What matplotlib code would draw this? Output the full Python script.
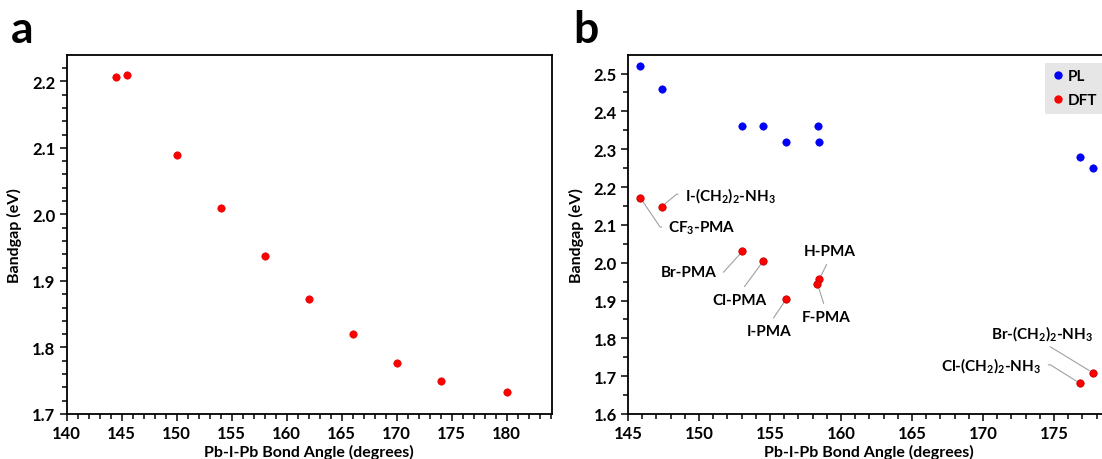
import numpy as np
import matplotlib
matplotlib.use("Agg")
import matplotlib.pyplot as plt
from matplotlib.ticker import MultipleLocator, FormatStrFormatter
from matplotlib.lines import Line2D

plt.rcParams["font.family"] = ["Lato", "DejaVu Sans"]
plt.rcParams["font.weight"] = "bold"
plt.rcParams["mathtext.fontset"] = "custom"
plt.rcParams["mathtext.rm"] = "Lato:bold"
plt.rcParams["mathtext.it"] = "Lato:bold"
plt.rcParams["mathtext.bf"] = "Lato:bold"

# panel a: DFT bandgap vs bond angle
angle_a = [144.47, 145.51, 150.0, 154.0, 158.0, 162.0, 166.0, 170.0, 174.0, 180.0]
gap_a = [2.206, 2.209, 2.089, 2.010, 1.937, 1.873, 1.820, 1.777, 1.749, 1.733]

# panel b: PL and DFT bandgaps
angle_pl = [145.85, 147.37, 153.05, 154.51, 156.15, 158.37, 158.46, 176.83, 177.73]
gap_pl = [2.52, 2.46, 2.36, 2.36, 2.32, 2.36, 2.32, 2.28, 2.25]

angle_dft = [145.88, 147.37, 153.05, 154.54, 156.15, 158.46, 158.34, 176.83, 177.73]
gap_dft = [2.171, 2.148, 2.030, 2.005, 1.904, 1.956, 1.944, 1.681, 1.709]
names = ["CF$_3$-PMA", "I-(CH$_2$)$_2$-NH$_3$", "Br-PMA", "Cl-PMA", "I-PMA",
         "H-PMA", "F-PMA", "Cl-(CH$_2$)$_2$-NH$_3$", "Br-(CH$_2$)$_2$-NH$_3$"]

# label placement: text position, alignment, leader attach point, connection
label_pos = [
    ((147.85, 2.094), "left", "center", (0, 0.5), "angle,angleA=0,angleB=-56,rad=0"),
    ((149.02, 2.181), "left", "center", (0, 0.5), "angle,angleA=0,angleB=40,rad=0"),
    ((151.22, 1.975), "right", "center", (1, 0.5), "angle,angleA=0,angleB=48,rad=0"),
    ((152.88, 1.902), "center", "center", (0.5, 1), "arc3"),
    ((154.95, 1.819), "center", "center", (0.5, 1), "arc3"),
    ((159.22, 2.031), "center", "center", (0.5, 0), "arc3"),
    ((158.93, 1.856), "center", "center", (0.5, 1), "arc3"),
    ((174.10, 1.730), "right", "center", (1, 0.5), "angle,angleA=0,angleB=-32,rad=0"),
    ((177.75, 1.816), "right", "center", (0.5, 0), "arc3"),
]

W, H = 1102, 460
fig = plt.figure(figsize=(W / 100, H / 100), dpi=100)
ax_a = fig.add_axes([66.7 / W, 45 / H, 485 / W, 359 / H])
ax_b = fig.add_axes([628 / W, 45 / H, 482 / W, 359 / H])

for ax in (ax_a, ax_b):
    for s in ax.spines.values():
        s.set_linewidth(1.3)
    ax.tick_params(which="major", direction="out", length=5, width=1.1,
                   labelsize=12, pad=3)
    ax.tick_params(which="minor", direction="out", length=3.5, width=1.1)
    ax.yaxis.set_major_formatter(FormatStrFormatter("%.1f"))
    ax.set_xlabel("Pb-I-Pb Bond Angle (degrees)", fontsize=11.5, fontweight="bold", labelpad=2)
    ax.set_ylabel("Bandgap (eV)", fontsize=11.5, fontweight="bold", labelpad=7)

# panel a
ax_a.scatter(angle_a, gap_a, s=28, color="#ff0000", edgecolors="#e00000", linewidths=0.5, zorder=3)
ax_a.set_xlim(140, 184.1)
ax_a.set_ylim(1.7, 2.2395)
ax_a.xaxis.set_major_locator(MultipleLocator(5))
ax_a.xaxis.set_minor_locator(MultipleLocator(1))
ax_a.yaxis.set_major_locator(MultipleLocator(0.1))
ax_a.yaxis.set_minor_locator(MultipleLocator(0.02))

# panel b
ax_b.scatter(angle_pl, gap_pl, s=28, color="#0000ff", edgecolors="#0000e0", linewidths=0.5, zorder=3)
ax_b.scatter(angle_dft, gap_dft, s=28, color="#ff0000", edgecolors="#c00000", linewidths=0.6, zorder=3)
ax_b.set_xlim(145, 178.94)
ax_b.set_ylim(1.6, 2.549)
ax_b.xaxis.set_major_locator(MultipleLocator(5))
ax_b.xaxis.set_minor_locator(MultipleLocator(1))
ax_b.yaxis.set_major_locator(MultipleLocator(0.1))
ax_b.yaxis.set_minor_locator(MultipleLocator(0.05))

for x, y, name, (txy, ha, va, rel, conn) in zip(angle_dft, gap_dft, names, label_pos):
    ax_b.annotate(name, xy=(x, y), xytext=txy, ha=ha, va=va,
                  fontsize=11, fontweight="bold",
                  arrowprops=dict(arrowstyle="-", color="#a0a0a0", lw=0.8,
                                  shrinkA=3, shrinkB=3, relpos=rel,
                                  connectionstyle=conn),
                  zorder=2)

handles = [Line2D([], [], ls="none", marker="o", ms=5, color="#0000ff", label="PL"),
           Line2D([], [], ls="none", marker="o", ms=5, color="#ff0000", label="DFT")]
leg = ax_b.legend(handles=handles, loc="upper left", bbox_to_anchor=(0.866, 0.979),
                  borderaxespad=0, fontsize=11, frameon=True, fancybox=False,
                  handletextpad=0.2, handlelength=0.8, labelspacing=0.65,
                  borderpad=0.45)
leg.get_frame().set_facecolor("#e6e6e6")
leg.get_frame().set_edgecolor("none")
leg.get_frame().set_alpha(1)

fig.text(11 / W, 1 - 43 / H, "a", fontsize=32, fontweight="bold", ha="left", va="baseline")
fig.text(573 / W, 1 - 43 / H, "b", fontsize=32, fontweight="bold", ha="left", va="baseline")

fig.savefig("out.png", dpi=100)
